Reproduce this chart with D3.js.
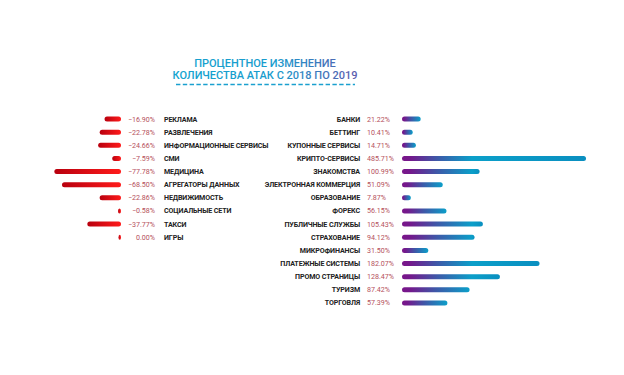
<!DOCTYPE html>
<html>
<head>
<meta charset="utf-8">
<script src="https://cdn.jsdelivr.net/npm/d3@7"></script>
<style>
  body { margin: 0; background: #fff; }
  svg { display: block; font-family: Roboto, "Noto Sans", sans-serif; }
</style>
</head>
<body>
<div id="chart"></div>
<script>
// падение (слева)
var downCats = ["РЕКЛАМА", "РАЗВЛЕЧЕНИЯ", "ИНФОРМАЦИОННЫЕ СЕРВИСЫ", "СМИ", "МЕДИЦИНА",
                "АГРЕГАТОРЫ ДАННЫХ", "НЕДВИЖИМОСТЬ", "СОЦИАЛЬНЫЕ СЕТИ", "ТАКСИ", "ИГРЫ"];
var downVals = [-16.90, -22.78, -24.66, -7.59, -77.78, -68.50, -22.86, -0.58, -37.77, 0.00];

// рост (справа)
var upCats = ["БАНКИ", "БЕТТИНГ", "КУПОННЫЕ СЕРВИСЫ", "КРИПТО-СЕРВИСЫ", "ЗНАКОМСТВА",
              "ЭЛЕКТРОННАЯ КОММЕРЦИЯ", "ОБРАЗОВАНИЕ", "ФОРЕКС", "ПУБЛИЧНЫЕ СЛУЖБЫ", "СТРАХОВАНИЕ",
              "МИКРОФИНАНСЫ", "ПЛАТЕЖНЫЕ СИСТЕМЫ", "ПРОМО СТРАНИЦЫ", "ТУРИЗМ", "ТОРГОВЛЯ"];
var upVals = [21.22, 10.41, 14.71, 485.71, 100.99, 51.09, 7.87, 56.15, 105.43, 94.12,
              31.50, 182.07, 128.47, 87.42, 57.39];

var titleLines = ["ПРОЦЕНТНОЕ ИЗМЕНЕНИЕ", "КОЛИЧЕСТВА АТАК С 2018 ПО 2019"];

var W = 624, H = 375;
var step = 13.14, top0 = 119, barH = 5;

var svg = d3.select("#chart").append("svg").attr("width", W).attr("height", H);
var defs = svg.append("defs");

function fmt(v) {
    var s = Math.abs(v).toFixed(2) + "%";
    return v < 0 ? "\u2212" + s : s;
}

// title
var tg = defs.append("linearGradient").attr("id", "tgrad")
    .attr("gradientUnits", "userSpaceOnUse").attr("x1", 176).attr("x2", 356).attr("y1", 0).attr("y2", 0);
tg.append("stop").attr("offset", 0).attr("stop-color", "#17a2cf");
tg.append("stop").attr("offset", 0.55).attr("stop-color", "#1c9bcd");
tg.append("stop").attr("offset", 1).attr("stop-color", "#5a5cae");

svg.selectAll(".title").data(titleLines).enter().append("text")
    .attr("class", "title")
    .attr("x", 265).attr("y", function(d, i) { return 67 + i * 11.5; })
    .attr("text-anchor", "middle")
    .style("font-size", "11px").style("font-weight", 500)
    .style("fill", "url(#tgrad)")
    .text(function(d) { return d; });

svg.append("line").attr("x1", 176).attr("x2", 355).attr("y1", 84.5).attr("y2", 84.5)
    .style("stroke", "#1aa0cf").style("stroke-width", 1.4).style("stroke-dasharray", "4.4,2.4");

// left block
var yL = d3.scalePoint().domain(downCats).range([top0, top0 + step * (downCats.length - 1)]);
var xL = d3.scaleLinear().domain([0, 80]).range([0, 66]);
var leftEnd = 121;

var lg = defs.append("linearGradient").attr("id", "lgrad").attr("x1", 0).attr("x2", 1).attr("y1", 0).attr("y2", 0);
lg.append("stop").attr("offset", 0).attr("stop-color", "#b8000e");
lg.append("stop").attr("offset", 1).attr("stop-color", "#ff1b1b");

var left = svg.append("g");
var lrows = left.selectAll(".lrow").data(downCats).enter().append("g")
    .attr("class", "lrow")
    .attr("transform", function(d) { return "translate(0," + yL(d) + ")"; });

function lLen(i) { return 2.5 + xL(Math.abs(downVals[i])); }

lrows.append("rect")
    .attr("x", function(d, i) { return leftEnd - lLen(i); })
    .attr("y", -barH / 2)
    .attr("width", function(d, i) { return lLen(i); })
    .attr("height", barH).attr("rx", 2.5)
    .style("fill", "url(#lgrad)");

lrows.append("text")
    .attr("x", 155).attr("dy", "0.35em").attr("text-anchor", "end")
    .style("font-size", "7.1px").style("fill", "#b5505c")
    .text(function(d, i) { return fmt(downVals[i]); });

lrows.append("text")
    .attr("x", 164).attr("dy", "0.35em")
    .style("font-size", "7.1px").style("font-weight", 700).style("fill", "#222")
    .style("letter-spacing", "-0.12px")
    .text(function(d) { return d; });

// right block
var yR = d3.scalePoint().domain(upCats).range([top0, top0 + step * (upCats.length - 1)]);
var xR = d3.scaleLinear().domain([0, 245]).range([0, 181]).clamp(true);
var rightStart = 402;

var right = svg.append("g");
var rrows = right.selectAll(".rrow").data(upCats).enter().append("g")
    .attr("class", "rrow")
    .attr("transform", function(d) { return "translate(0," + yR(d) + ")"; });

rrows.each(function(d, i) {
    var len = 3 + xR(upVals[i]);
    var g = defs.append("linearGradient").attr("id", "rg" + i).attr("x1", 0).attr("x2", 1).attr("y1", 0).attr("y2", 0);
    var k = Math.min(1, 70 / len);
    g.append("stop").attr("offset", 0).attr("stop-color", "#7a168a");
    g.append("stop").attr("offset", k * 0.12).attr("stop-color", "#73198c");
    g.append("stop").attr("offset", k * 0.5).attr("stop-color", "#3e58a8");
    g.append("stop").attr("offset", k).attr("stop-color", "#0b9fc9");
    if (k < 1) g.append("stop").attr("offset", 1).attr("stop-color", "#0a8fc0");
    d3.select(this).append("rect")
        .attr("x", rightStart).attr("y", -barH / 2)
        .attr("width", len).attr("height", barH).attr("rx", 2.5)
        .style("fill", "url(#rg" + i + ")");
});

rrows.append("text")
    .attr("x", 367).attr("dy", "0.35em")
    .style("font-size", "7.1px").style("fill", "#b5505c")
    .text(function(d, i) { return fmt(upVals[i]); });

rrows.append("text")
    .attr("x", 360).attr("dy", "0.35em").attr("text-anchor", "end")
    .style("font-size", "7.1px").style("font-weight", 700).style("fill", "#222")
    .style("letter-spacing", "-0.12px")
    .text(function(d) { return d; });
</script>
</body>
</html>
